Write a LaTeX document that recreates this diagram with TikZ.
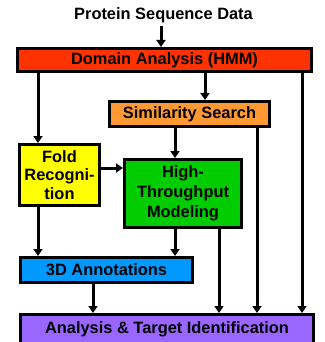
\documentclass[tikz,border=0pt]{standalone}
\usepackage{fontspec}
\setmainfont{Liberation Sans}
\usetikzlibrary{arrows.meta}
\definecolor{domainred}{HTML}{FF3300}
\definecolor{simorange}{HTML}{FF9933}
\definecolor{foldyellow}{HTML}{FFFF00}
\definecolor{modelgreen}{HTML}{00CC00}
\definecolor{annotblue}{HTML}{0099FF}
\definecolor{targetpurple}{HTML}{9966FF}
\tikzset{
  stage/.style={draw=black, line width=3pt, rectangle, inner sep=0pt,
    align=center, font=\bfseries\fontsize{16.4}{18.5}\selectfont},
  flow/.style={line width=3pt, -{Triangle[length=7pt,width=9pt]}},
  feed/.style={line width=3pt}
}
\begin{document}
\begin{tikzpicture}[x=1pt,y=-1pt]
\useasboundingbox (0,0) rectangle (324,342);

\node[font=\bfseries\fontsize{16.4}{19}\selectfont] (title) at (163.5,15) {Protein Sequence Data};

\node[stage, fill=domainred, minimum width=294pt, minimum height=23pt] (dom) at (164.5,60) {Domain Analysis (HMM)};
\node[stage, fill=simorange, minimum width=160pt, minimum height=25pt] (sim) at (189.5,114) {Similarity Search};
\node[stage, fill=foldyellow, minimum width=80pt, minimum height=61pt] (fold) at (59.5,175) {Fold\\Recogni-\\tion};
\node[stage, fill=modelgreen, minimum width=117pt, minimum height=68pt,
  font=\bfseries\fontsize{16.4}{20}\selectfont] (model) at (183,193.5) {High-\\Throughput\\Modeling};
\node[stage, fill=annotblue, minimum width=172pt, minimum height=25pt] (annot) at (106.5,270) {3D Annotations};
\node[stage, fill=targetpurple, minimum width=293pt, minimum height=29pt] (target) at (167,329) {Analysis \& Target Identification};

% column positions of the vertical connectors
\coordinate (xin) at (161,0);
\coordinate (xl) at (38,0);
\coordinate (xsim) at (205,0);
\coordinate (xr) at (302,0);
\coordinate (xmod) at (175,0);
\coordinate (xsr) at (257,0);
\coordinate (xmr) at (219,0);
\coordinate (xan) at (93,0);

\draw[flow] (title.south -| xin) -- (dom.north -| xin);
\draw[flow] (dom.south -| xl) -- (fold.north -| xl);
\draw[flow] (dom.south -| xsim) -- (sim.north -| xsim);
\draw[flow] (dom.south -| xr) -- (target.north -| xr);
\draw[flow] (sim.south -| xmod) -- (model.north -| xmod);
\draw[flow] (sim.south -| xsr) -- (target.north -| xsr);
\draw[flow] (fold.east |- 0,168) -- (model.west |- 0,168);
\draw[flow] (fold.south -| xl) -- (annot.north -| xl);
\draw[flow] (model.south -| xmod) -- (annot.north -| xmod);
\draw[flow] (model.south -| xmr) -- (target.north -| xmr);
\draw[flow] (annot.south -| xan) -- (target.north -| xan);
\end{tikzpicture}
\end{document}
